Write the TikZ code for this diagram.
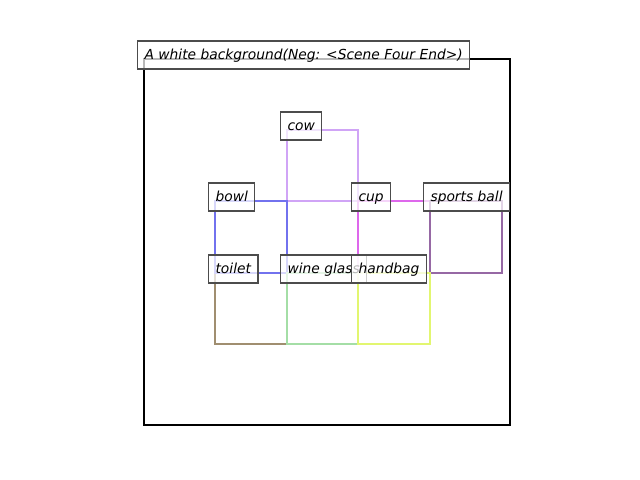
\documentclass[tikz,border=0pt]{standalone}
\usepackage{fontspec}
\setmainfont{DejaVu Sans}
\begin{document}
\begin{tikzpicture}[x=0.72pt,y=-0.72pt,
  lbl/.style={draw=black!70, line width=0.8pt, fill=white, fill opacity=0.72, text opacity=1,
    inner xsep=5.04pt, inner ysep=0pt, text height=12.96pt, text depth=7.2pt,
    anchor=base west, font=\fontsize{9.95pt}{12pt}\selectfont\itshape},
  bx/.style={line width=1.8pt}]
\useasboundingbox (0,0) rectangle (640,480);
\definecolor{ccow}{RGB}{208,164,246}
\definecolor{cbowl}{RGB}{114,114,238}
\definecolor{ccup}{RGB}{222,104,236}
\definecolor{cball}{RGB}{150,104,164}
\definecolor{ctoilet}{RGB}{160,142,112}
\definecolor{cwine}{RGB}{164,222,166}
\definecolor{cbag}{RGB}{226,246,112}
% outer frame
\draw[line width=1.6pt,black] (144,59) rectangle (510,425);
% object boxes
\draw[bx,ccow] (287,130) rectangle (358,201);
\draw[bx,ctoilet] (215,273) rectangle (287,344);
\draw[bx,cbowl] (215,201) rectangle (287,273);
\draw[bx,ccup] (358,201) rectangle (430,273);
\draw[bx,cball] (430,201) rectangle (502,273);
\draw[bx,cwine] (287,273) rectangle (358,344);
\draw[bx,cbag] (358,273) rectangle (430,344);
% labels
\node[lbl] (title) at (137,59) {A white background(Neg: <Scene Four End>)};
\node[lbl] (cow) at (280,130) {cow};
\node[lbl] (bowl) at (208,201) {bowl};
\node[lbl] (cup) at (351,201) {cup};
\node[lbl] (ball) at (423,201) {sports ball};
\node[lbl] (toilet) at (208,273) {toilet};
\node[lbl] (wine) at (280,273) {wine glass};
\node[lbl] (bag) at (351,273) {handbag};
\end{tikzpicture}
\end{document}
